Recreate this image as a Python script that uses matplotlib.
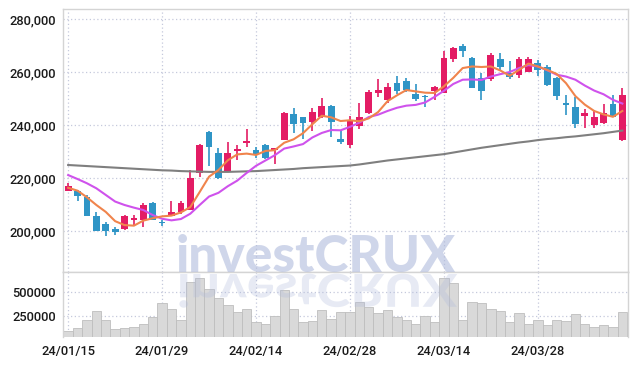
import matplotlib
matplotlib.use("Agg")
import matplotlib.pyplot as plt
from matplotlib.ticker import FuncFormatter
from matplotlib.textpath import TextPath
from matplotlib.patches import PathPatch
from matplotlib.font_manager import FontProperties, fontManager
from matplotlib.transforms import Affine2D

# daily candles, 24/01/15 .. 24/04/11 (60 trading days)
date_labels = ["24/01/15", "24/01/29", "24/02/14", "24/02/28", "24/03/14", "24/03/28"]
date_ticks = [0, 10, 20, 30, 40, 50]

opens = [215200, 215200, 212800, 205500, 202600, 200600, 200800, 204300, 204200, 210700,
         203400, 205800, 207100, 208000, 222000, 237500, 229500, 222700, 230200, 233100,
         230500, 232500, 230500, 234300, 244300, 242900, 241200, 242900, 247200, 234700,
         232400, 239700, 244400, 252000, 249400, 255700, 256700, 251600, 251000, 252900,
         252000, 265100, 269700, 265400, 257700, 257200, 264900, 259500, 258900, 260100,
         263300, 262000, 257900, 248400, 246900, 243400, 240000, 240700, 247900, 234300]
highs = [218000, 215400, 213500, 207200, 203500, 201400, 205900, 205900, 210400, 211100,
         204200, 211300, 211400, 223000, 232800, 237700, 231200, 233700, 232500, 238400,
         231800, 233000, 231400, 245000, 246400, 243200, 246300, 250100, 247400, 237700,
         243400, 248200, 253200, 257400, 255700, 258500, 257600, 255400, 251300, 254800,
         268100, 269500, 270400, 265800, 259600, 267000, 267000, 264100, 265500, 265500,
         264500, 262800, 258200, 251300, 250700, 245900, 245700, 247800, 251300, 253800]
lows = [215000, 211300, 205700, 200000, 198200, 198500, 200400, 202000, 201600, 204200,
        201900, 205800, 206500, 207900, 220400, 224500, 219700, 222700, 226800, 231800,
        227400, 227200, 225200, 234300, 236800, 234600, 237700, 242600, 235600, 232700,
        231400, 238500, 244000, 250500, 248200, 251600, 252300, 249200, 246700, 249400,
        252000, 263900, 265500, 253900, 249400, 256800, 260700, 257200, 257600, 260100,
        258600, 254600, 249400, 243700, 239000, 239000, 239000, 240400, 243100, 233900]
closes = [217000, 213300, 205700, 200100, 199800, 199500, 205700, 204900, 209800, 204200,
          202900, 207300, 210700, 220100, 232400, 231800, 219900, 229400, 230900, 234000,
          229200, 227400, 231200, 244600, 240400, 240700, 244800, 247200, 241200, 233700,
          242000, 243100, 252300, 253200, 254500, 252900, 253200, 249800, 250500, 254200,
          265400, 269200, 268000, 253900, 252800, 266400, 261800, 258200, 264900, 264900,
          260700, 255100, 250900, 247500, 240400, 244400, 243100, 244400, 243100, 251300]
volumes = [101000, 129000, 216000, 309000, 216000, 122000, 129000, 143000, 174000, 247000,
           389000, 327000, 216000, 608000, 650000, 535000, 442000, 372000, 299000, 327000,
           195000, 174000, 257000, 528000, 327000, 195000, 205000, 320000, 226000, 296000,
           299000, 400000, 348000, 285000, 317000, 240000, 216000, 174000, 250000, 192000,
           650000, 598000, 216000, 400000, 389000, 327000, 306000, 192000, 285000, 174000,
           213000, 160000, 213000, 205000, 275000, 171000, 140000, 160000, 140000, 296000]

ma5 = [216300, 215200, 212700, 209800, 207200, 203700, 202200, 202000, 203900, 204800,
       205500, 205800, 207000, 209000, 214700, 220500, 223000, 226700, 228900, 229200,
       228700, 230200, 230500, 233300, 234600, 236900, 240300, 243500, 242900, 241500,
       241800, 241400, 242500, 244900, 249000, 251200, 253200, 252700, 252200, 252100,
       254600, 257800, 261500, 262100, 261900, 262100, 260600, 258600, 260800, 263200,
       262100, 260800, 259300, 255800, 250900, 247700, 245300, 244000, 243100, 245300]
ma10 = [221100, 219600, 218000, 216100, 213600, 211100, 209800, 208800, 207900, 206000,
        204600, 204000, 204500, 206500, 209800, 213000, 214400, 216900, 219000, 221900,
        224600, 226600, 228600, 231100, 231900, 232800, 235300, 237000, 238100, 238000,
        239300, 240900, 243000, 243900, 245300, 246500, 247300, 247600, 248500, 250600,
        252900, 255500, 257100, 257200, 257000, 258300, 259200, 260000, 261500, 262600,
        262100, 260700, 259000, 258300, 257100, 254900, 253000, 251600, 249500, 248100]
ma60 = [224900, 224700, 224500, 224300, 224100, 223900, 223700, 223500, 223300, 223100,
        222900, 222800, 222600, 222500, 222400, 222300, 222300, 222300, 222400, 222500,
        222600, 222800, 223000, 223200, 223400, 223700, 223900, 224100, 224300, 224500,
        224700, 225100, 225600, 226100, 226600, 227000, 227400, 227800, 228200, 228600,
        229000, 229600, 230200, 230800, 231400, 231900, 232400, 232900, 233400, 233800,
        234300, 234700, 235000, 235400, 235700, 236100, 236500, 236900, 237400, 237900]

UP = "#e31c64"
DOWN = "#2f95c6"
GRID = "#c5c9dc"
FRAME = "#d4d4d4"

# narrow font for the tick labels if one is around
names = {f.name for f in fontManager.ttflist}
if "Liberation Sans Narrow" in names:
    tick_font, tick_size = "Liberation Sans Narrow", 11
else:
    tick_font, tick_size = "Roboto", 9.3
plt.rcParams["font.family"] = [tick_font, "DejaVu Sans"]

fig = plt.figure(figsize=(6.37, 3.66), dpi=100)
ax = fig.add_axes([63 / 637, 1 - 272 / 366, 565 / 637, 263 / 366])
axv = fig.add_axes([63 / 637, 1 - 337 / 366, 565 / 637, 65 / 366], sharex=ax)

x = list(range(len(closes)))

# candles
for i in x:
    col = UP if closes[i] >= opens[i] else DOWN
    ax.vlines(i, lows[i], highs[i], color=col, lw=1.2, zorder=2)
    ax.bar(i, abs(closes[i] - opens[i]), bottom=min(opens[i], closes[i]),
           width=0.72, color=col, zorder=2)

ax.plot(x, ma60, color="#7f7f7f", lw=1.5, zorder=3)
ax.plot(x, ma10, color="#cf52ec", lw=1.5, zorder=3)
ax.plot(x, ma5, color="#f0844c", lw=1.5, zorder=3)

ax.set_xlim(-0.55, 59.6)
ax.set_ylim(184500, 283800)
ax.set_yticks([200000, 220000, 240000, 260000, 280000])
ax.yaxis.set_major_formatter(FuncFormatter(lambda v, p: f"{int(v):,}"))

# volume
axv.bar(x, volumes, width=1.0, color="#d9d9d9", edgecolor="#bebebe", lw=0.6, zorder=2)
axv.set_ylim(35000, 712000)
axv.set_yticks([250000, 500000])
axv.yaxis.set_major_formatter(FuncFormatter(lambda v, p: f"{int(v)}"))
axv.set_xticks(date_ticks)
axv.set_xticklabels(date_labels)

for a in (ax, axv):
    a.grid(True, color=GRID, ls=(0, (1, 2)), lw=0.9, zorder=0)
    a.set_axisbelow(True)
    a.tick_params(length=0, labelsize=tick_size, labelcolor="#1a1a1a", pad=5)
    for lbl in a.get_xticklabels() + a.get_yticklabels():
        lbl.set_fontweight("medium")
    for s in a.spines.values():
        s.set_color(FRAME)
        s.set_linewidth(1.0)
ax.tick_params(labelbottom=False)
axv.spines["bottom"].set_visible(False)
axv.tick_params(axis="x", pad=6)

# watermark and its mirror
fig.text(316 / 637, 1 - 272 / 366, "investCRUX", fontsize=37, fontweight="black",
         family=["Lato", "DejaVu Sans"], color="#b0bbdc", alpha=0.6,
         ha="center", va="baseline", zorder=5)
fp = FontProperties(family=["Lato", "DejaVu Sans"], weight="black")
tp = TextPath((0, 0), "investCRUX", size=51.4, prop=fp)
w = tp.get_extents().width
tr = Affine2D().scale(1, -0.88).translate(316 - w / 2, 366 - 274)
fig.add_artist(PathPatch(tp, transform=tr, facecolor="#b0bbdc", lw=0,
                         alpha=0.3, zorder=5))

fig.savefig("out.png", dpi=100)
